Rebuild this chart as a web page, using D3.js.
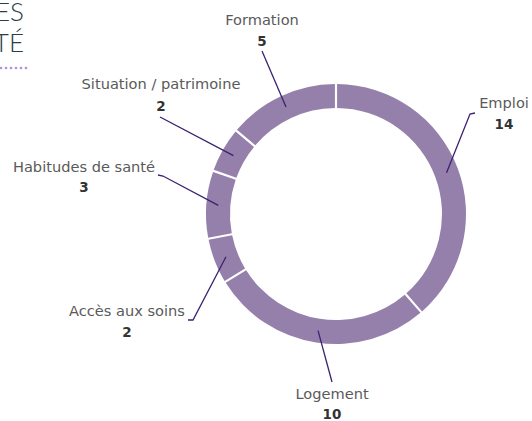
<!DOCTYPE html>
<html>
<head>
<meta charset="utf-8">
<script src="https://cdn.jsdelivr.net/npm/d3@7"></script>
<style>
  html, body { margin: 0; padding: 0; background: #fff; }
  svg { display: block; }
</style>
</head>
<body>
<div id="chart"></div>
<script>
// données
const categories = ['Emploi', 'Logement', 'Accès aux soins', 'Habitudes de santé', 'Situation / patrimoine', 'Formation'];
const values = [14, 10, 2, 3, 2, 5];

// position des étiquettes (x, y de la ligne de base du libellé) et départ du trait
const labelPos = [
  { x: 504, y: 108, vy: 129, line: [[475, 113], [470, 114]] },
  { x: 332, y: 399, vy: 419, line: [[332, 382]] },
  { x: 127, y: 316, vy: 337, line: [[188, 320], [193, 320]] },
  { x: 84,  y: 172, vy: 192, line: [[158, 175], [163, 176]] },
  { x: 161, y: 89,  vy: 111, line: [[160, 117]] },
  { x: 262, y: 25,  vy: 46,  line: [[262, 51]] }
];

const width = 532, height = 421;
const cx = 336, cy = 214;
const outerR = 130, innerR = 106;

const svg = d3.select('#chart').append('svg')
  .attr('width', width)
  .attr('height', height);

// titre coupé en haut à gauche (comme sur l'original)
const title = svg.append('g')
  .attr('font-family', 'Lato, "Open Sans", sans-serif')
  .attr('font-weight', 300)
  .attr('font-size', 26)
  .attr('fill', '#2b3d48')
  .attr('text-anchor', 'end');
title.append('text').attr('x', 24).attr('y', 21).text('ES');
title.append('text').attr('x', 24).attr('y', 52).text('TÉ');

svg.append('g').selectAll('circle')
  .data(d3.range(6))
  .enter().append('circle')
  .attr('cx', d => 1 + d * 5)
  .attr('cy', 68)
  .attr('r', 1.3)
  .attr('fill', '#b58ed6');

// anneau
const pie = d3.pie().sort(null).value(d => d).padAngle(0.013);
const arcs = pie(values);
const arc = d3.arc().innerRadius(innerR).outerRadius(outerR);
const midArc = d3.arc().innerRadius(118).outerRadius(118);

const g = svg.append('g').attr('transform', `translate(${cx},${cy})`);

g.selectAll('.slice')
  .data(arcs)
  .enter().append('path')
  .attr('class', 'slice')
  .attr('d', arc)
  .attr('fill', '#9580ab');

// traits de rappel
const line = d3.line();
svg.selectAll('.leader')
  .data(arcs)
  .enter().append('path')
  .attr('class', 'leader')
  .attr('d', (d, i) => {
    const c = midArc.centroid(d);
    return line(labelPos[i].line.concat([[cx + c[0], cy + c[1]]]));
  })
  .attr('fill', 'none')
  .attr('stroke', '#3b2270')
  .attr('stroke-width', 1.3);

// libellés
const labels = svg.selectAll('.label')
  .data(arcs)
  .enter().append('g')
  .attr('class', 'label')
  .attr('text-anchor', 'middle')
  .attr('font-family', '"DejaVu Sans", sans-serif');

labels.append('text')
  .attr('x', (d, i) => labelPos[i].x)
  .attr('y', (d, i) => labelPos[i].y)
  .attr('font-size', 14.6)
  .attr('fill', '#5a5a5a')
  .text((d, i) => categories[i]);

labels.append('text')
  .attr('x', (d, i) => labelPos[i].x)
  .attr('y', (d, i) => labelPos[i].vy)
  .attr('font-size', 13.5)
  .attr('font-weight', 'bold')
  .attr('fill', '#333')
  .text(d => d.data);
</script>
</body>
</html>
